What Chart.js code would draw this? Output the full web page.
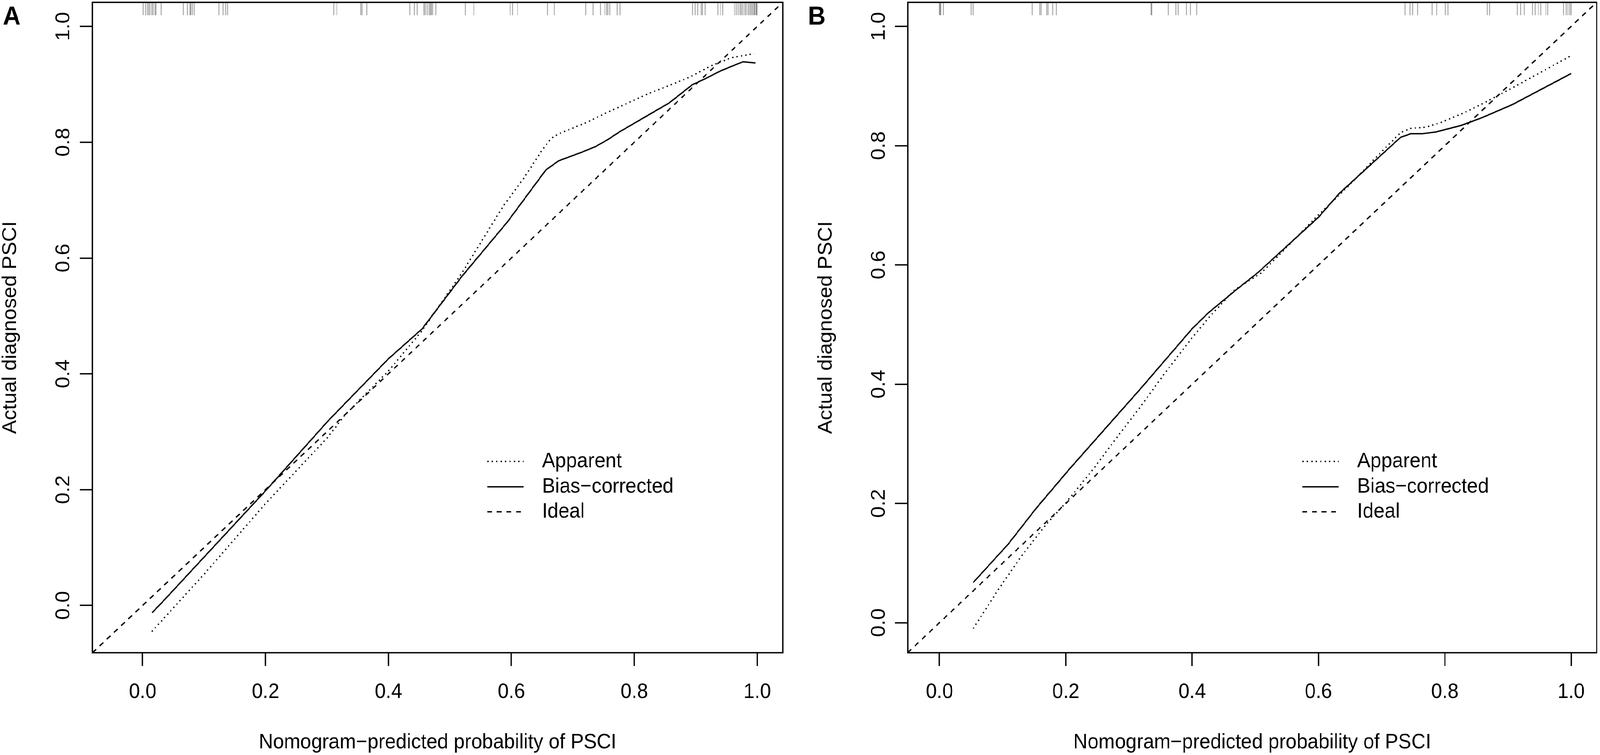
<!DOCTYPE html>
<html>
<head>
<meta charset="utf-8">
<script src="https://cdn.jsdelivr.net/npm/chart.js@4.4.1/dist/chart.umd.min.js"></script>
<style>
html,body{margin:0;padding:0;background:#fff;overflow:hidden;}
#wrap{position:absolute;left:0;top:0;width:4317px;height:1934px;background:#fff;transform-origin:0 0;}
canvas{position:absolute;top:0;}
#cA{left:0;}
#cB{left:2160px;}
</style>
</head>
<body>
<div id="wrap">
<canvas id="cA" width="2160" height="1934"></canvas>
<canvas id="cB" width="2157" height="1934"></canvas>
</div>
<script>
// ---------- data ----------
const tickValues = [0, 0.2, 0.4, 0.6, 0.8, 1.0];
const xTitle = 'Nomogram\u2212predicted probability of PSCI';
const yTitle = 'Actual diagnosed PSCI';
const legendLabels = ['Apparent', 'Bias\u2212corrected', 'Ideal'];
const panelLetters = ['A', 'B'];
const axisLimitsA = [-0.0816, 1.0416];
const axisLimitsB = [-0.0504, 1.0404];

// Panel A
const apparentAx = [0.015, 0.10, 0.20, 0.30, 0.33, 0.40, 0.455, 0.52, 0.587, 0.621, 0.651, 0.665, 0.678, 0.722, 0.755, 0.79, 0.823, 0.857, 0.891, 0.925, 0.958, 0.995];
const apparentAy = [-0.045, 0.054, 0.176, 0.289, 0.330, 0.405, 0.475, 0.575, 0.690, 0.739, 0.788, 0.807, 0.815, 0.834, 0.851, 0.868, 0.884, 0.898, 0.913, 0.932, 0.946, 0.953];
const biasAx = [0.0154, 0.033, 0.20, 0.302, 0.40, 0.455, 0.52, 0.594, 0.656, 0.677, 0.695, 0.715, 0.736, 0.756, 0.776, 0.823, 0.857, 0.894, 0.918, 0.938, 0.958, 0.977, 0.997];
const biasAy = [-0.0125, 0.0069, 0.198, 0.319, 0.426, 0.478, 0.569, 0.663, 0.752, 0.768, 0.775, 0.783, 0.792, 0.804, 0.818, 0.847, 0.868, 0.899, 0.911, 0.922, 0.931, 0.939, 0.937];
const rugA = [0.001, 0.005, 0.008, 0.010, 0.012, 0.015, 0.017, 0.020, 0.022, 0.030, 0.066, 0.073, 0.077, 0.078, 0.081, 0.084, 0.124, 0.131, 0.135, 0.138, 0.311, 0.316, 0.355, 0.357, 0.365, 0.435, 0.442, 0.447, 0.458, 0.460, 0.463, 0.466, 0.468, 0.470, 0.472, 0.477, 0.525, 0.539, 0.598, 0.602, 0.610, 0.659, 0.670, 0.721, 0.733, 0.745, 0.752, 0.755, 0.757, 0.760, 0.772, 0.777, 0.895, 0.899, 0.903, 0.909, 0.911, 0.915, 0.936, 0.940, 0.944, 0.963, 0.966, 0.969, 0.972, 0.974, 0.977, 0.980, 0.982, 0.985, 0.987, 0.989, 0.991, 0.993, 0.995, 0.996, 0.998, 0.999, 1.000];

// Panel B
const apparentBx = [0.0533, 0.094, 0.132, 0.169, 0.20, 0.243, 0.281, 0.318, 0.355, 0.40, 0.43, 0.467, 0.51, 0.60, 0.65, 0.70, 0.73, 0.746, 0.77, 0.794, 0.83, 0.859, 0.907, 0.95, 1.0];
const apparentBy = [-0.010, 0.057, 0.115, 0.165, 0.201, 0.257, 0.311, 0.362, 0.416, 0.478, 0.516, 0.558, 0.587, 0.684, 0.735, 0.790, 0.822, 0.829, 0.831, 0.839, 0.855, 0.870, 0.897, 0.922, 0.951];
const biasBx = [0.0533, 0.109, 0.154, 0.206, 0.318, 0.40, 0.426, 0.467, 0.504, 0.60, 0.633, 0.73, 0.746, 0.764, 0.786, 0.826, 0.859, 0.907, 1.0];
const biasBy = [0.0672, 0.132, 0.193, 0.258, 0.392, 0.493, 0.520, 0.556, 0.587, 0.680, 0.720, 0.814, 0.820, 0.820, 0.823, 0.834, 0.847, 0.869, 0.921];
const rugB = [0.000, 0.001, 0.002, 0.006, 0.050, 0.053, 0.147, 0.159, 0.161, 0.170, 0.172, 0.179, 0.185, 0.335, 0.336, 0.362, 0.374, 0.378, 0.391, 0.397, 0.407, 0.737, 0.745, 0.749, 0.757, 0.780, 0.787, 0.801, 0.805, 0.867, 0.871, 0.915, 0.920, 0.926, 0.939, 0.943, 0.948, 0.952, 0.960, 0.963, 0.988, 0.992, 0.995, 0.998, 1.000];

// ---------- fit the 4317x1934 figure into the actual viewport ----------
(function fitFrame() {
  const w = window.innerWidth || 4317, h = window.innerHeight || 1934;
  const sx = w / 4317, sy = h / 1934;
  document.getElementById('wrap').style.transform = 'scale(' + sx + ',' + sy + ')';
})();

// ---------- drawing ----------
const FAMILY = "'Liberation Sans', Arial, Helvetica, sans-serif";
const FS = 53;
const LW = 3.5;

function pts(xs, ys) { return xs.map((x, i) => ({x: x, y: ys[i]})); }

const decorPlugin = {
  id: 'decor',
  afterDatasetsDraw(chart, args, opts) {
    const ctx = chart.ctx;
    const a = chart.chartArea;
    const xs = chart.scales.x;
    ctx.save();
    // rug of predicted probabilities
    ctx.strokeStyle = 'rgba(0,0,0,0.36)';
    ctx.lineWidth = 2.4;
    for (const v of opts.rug) {
      const px = xs.getPixelForValue(v);
      ctx.beginPath();
      ctx.moveTo(px, a.top);
      ctx.lineTo(px, a.top + 33);
      ctx.stroke();
    }
    // frame
    ctx.strokeStyle = '#000';
    ctx.lineWidth = LW;
    ctx.setLineDash([]);
    ctx.strokeRect(a.left, a.top, a.right - a.left, a.bottom - a.top);
    // legend
    const lx0 = a.left + 1065, lx1 = a.left + 1163, tx = a.left + 1213;
    const rows = [1176, 1241, 1305];
    ctx.font = FS + 'px ' + FAMILY;
    ctx.fillStyle = '#000';
    ctx.textAlign = 'left';
    ctx.textBaseline = 'middle';
    chart.data.datasets.forEach((ds, i) => {
      const y = a.top + rows[i];
      ctx.beginPath();
      ctx.setLineDash(ds.borderDash || []);
      ctx.lineWidth = ds.borderWidth;
      ctx.lineCap = 'butt';
      ctx.moveTo(lx0, y);
      ctx.lineTo(lx1, y);
      ctx.stroke();
      ctx.fillText(ds.label, tx, y);
    });
    ctx.setLineDash([]);
    // panel letter
    ctx.font = 'bold 66px ' + FAMILY;
    ctx.textBaseline = 'alphabetic';
    ctx.fillText(opts.letter, opts.letterX, 63);
    ctx.restore();
  }
};

function makeChart(id, lim, appX, appY, biasX, biasY, rug, letter, padLeft, axisW, padRight, letterX) {
  const font = {family: FAMILY, size: FS};
  const ideal = [{x: lim[0], y: lim[0]}, {x: lim[1], y: lim[1]}];
  return new Chart(document.getElementById(id), {
    type: 'scatter',
    data: {
      datasets: [
        {label: legendLabels[0], data: pts(appX, appY), showLine: true, borderColor: '#000', borderWidth: LW, borderDash: [3.5, 8.5], pointRadius: 0, tension: 0, fill: false},
        {label: legendLabels[1], data: pts(biasX, biasY), showLine: true, borderColor: '#000', borderWidth: LW, pointRadius: 0, tension: 0, fill: false},
        {label: legendLabels[2], data: ideal, showLine: true, borderColor: '#000', borderWidth: LW, borderDash: [13, 13], pointRadius: 0, tension: 0, fill: false}
      ]
    },
    options: {
      responsive: false,
      maintainAspectRatio: false,
      devicePixelRatio: 1,
      animation: false,
      events: [],
      layout: {padding: {left: padLeft, right: padRight, top: 6, bottom: 0}},
      plugins: {
        legend: {display: false},
        tooltip: {enabled: false},
        decor: {rug: rug, letter: letter, letterX: letterX}
      },
      scales: {
        x: {
          type: 'linear', min: lim[0], max: lim[1],
          afterBuildTicks: s => { s.ticks = tickValues.map(v => ({value: v})); },
          afterFit: s => { s.height = 262; s.paddingLeft = 0; s.paddingRight = 0; },
          grid: {display: true, drawOnChartArea: false, drawTicks: true, tickLength: 34, tickWidth: LW, tickColor: '#000'},
          border: {display: false},
          ticks: {autoSkip: false, minRotation: 0, maxRotation: 0, padding: 36, color: '#000', font: font,
                  callback: v => Number(v).toFixed(1)},
          title: {display: true, text: xTitle, color: '#000', font: font, padding: {top: 0, bottom: 0}}
        },
        y: {
          type: 'linear', min: lim[0], max: lim[1],
          afterBuildTicks: s => { s.ticks = tickValues.map(v => ({value: v})); },
          afterFit: s => { s.width = axisW; s.paddingTop = 0; s.paddingBottom = 0; },
          grid: {display: true, drawOnChartArea: false, drawTicks: true, tickLength: 34, tickWidth: LW, tickColor: '#000'},
          border: {display: false},
          ticks: {autoSkip: false, minRotation: 90, maxRotation: 90, crossAlign: 'center', padding: 6, color: '#000', font: font,
                  callback: v => Number(v).toFixed(1)},
          title: {display: true, text: yTitle, color: '#000', font: {family: FAMILY, size: FS, lineHeight: 1.06}, padding: {top: 0, bottom: 0}}
        }
      }
    },
    plugins: [decorPlugin]
  });
}

makeChart('cA', axisLimitsA, apparentAx, apparentAy, biasAx, biasAy, rugA, panelLetters[0], 0, 249.5, 48, 8);
makeChart('cB', axisLimitsB, apparentBx, apparentBy, biasBx, biasBy, rugB, panelLetters[1], 41, 248, 9, 20);
</script>
</body>
</html>
